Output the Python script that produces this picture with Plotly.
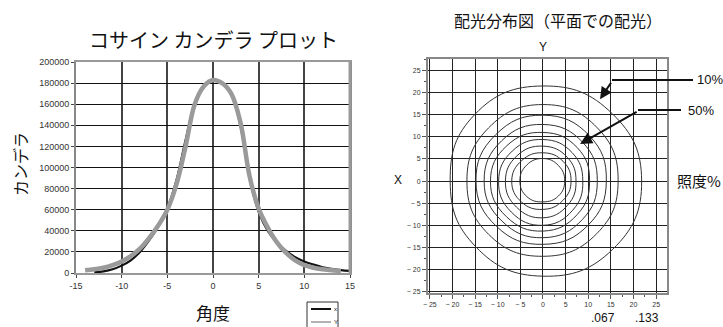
import numpy as np
import plotly.graph_objects as go

# ---------------- data ----------------
# Left chart: cosine candela plot
angle_x = list(range(-13, 16))
cand_x = [500, 1500, 3500, 7000, 12000, 20000, 31000, 44000, 61000, 88000, 126000,
          161000, 178000, 183000, 180000, 170000, 140000, 90000, 58000, 40000, 29000,
          21000, 15000, 11000, 8000, 5500, 4000, 2800, 2000]
angle_y = list(range(-14, 15))
cand_y = [2500, 3500, 5000, 7500, 11000, 16000, 23000, 33000, 45000, 60000, 84000,
          120000, 160000, 177000, 183000, 180000, 170000, 143000, 92000, 61000, 43000,
          29000, 19000, 12000, 7500, 5000, 3500, 2500, 2000]
left_xticks = [-15, -10, -5, 0, 5, 10, 15]
left_xticktext = ["-15", "-10", "-5", "0", "5", "10", "15"]
left_yticks = list(range(0, 200001, 20000))

# Right chart: iso-illuminance contours, radii read at these angles (deg)
contour_angles = [0, 45, 90, 135, 180, 225, 270, 315]
contour_radii = [
    [21.8, 21.6, 21.5, 21.3, 20.5, 21.0, 21.5, 21.8],
    [16.6, 17.0, 17.3, 17.0, 16.8, 17.0, 17.0, 16.8],
    [14.0, 14.5, 14.9, 14.8, 14.8, 14.5, 14.3, 14.1],
    [12.0, 12.4, 12.8, 12.9, 13.0, 12.8, 12.8, 12.3],
    [10.3, 10.7, 11.0, 11.3, 11.6, 11.4, 11.3, 10.7],
    [8.8, 9.1, 9.4, 9.6, 9.8, 9.9, 10.0, 9.3],
    [7.3, 7.6, 7.9, 8.1, 8.3, 8.3, 8.3, 7.7],
    [6.2, 6.3, 6.4, 6.6, 6.9, 6.7, 6.4, 6.2],
    [4.8, 4.9, 5.1, 5.1, 5.1, 5.0, 4.7, 4.8],
]
right_ticks = [-25, -20, -15, -10, -5, 0, 5, 10, 15, 20, 25]
right_ticktext = ["\u2212 25", "\u2212 20", "\u2212 15", "\u2212 10", "\u2212 5", "0",
                  "5", "10", "15", "20", "25"]

W, H = 723, 327
JP = "Noto Sans CJK JP"
LAT = "Liberation Sans, Arial, sans-serif"

def px(x):
    return x / W

def py(y):
    return 1 - y / H

fig = go.Figure()

# left chart curves
fig.add_trace(go.Scatter(x=angle_x, y=cand_x, mode="lines", line=dict(color="#111111", width=2.2, shape="spline"),
                         xaxis="x", yaxis="y", showlegend=False, name="X"))
fig.add_trace(go.Scatter(x=angle_y, y=cand_y, mode="lines", line=dict(color="#9a9a9a", width=4.5, shape="spline"),
                         xaxis="x", yaxis="y", showlegend=False, name="Y"))

# right chart contours
th = np.deg2rad(contour_angles + [360])
for r in contour_radii:
    rr = np.array(r + [r[0]])
    fig.add_trace(go.Scatter(x=rr * np.cos(th), y=rr * np.sin(th), mode="lines",
                             line=dict(color="#333333", width=1, shape="spline", smoothing=1.3),
                             xaxis="x2", yaxis="y2", showlegend=False, hoverinfo="skip"))

fig.update_layout(
    width=W, height=H, margin=dict(l=0, r=0, t=0, b=0),
    paper_bgcolor="white", plot_bgcolor="white",
    font=dict(family=LAT, color="#222222"),
    xaxis=dict(domain=[px(76), px(350)], range=[-15, 15], tickvals=left_xticks, ticktext=left_xticktext,
               showgrid=True, gridcolor="#444444", gridwidth=1.5, zeroline=False,
               showline=True, linecolor="#999999", linewidth=2, mirror=True,
               ticks="outside", ticklen=3, tickcolor="#444444", automargin=False,
               tickfont=dict(size=9, family=LAT, color="#333333")),
    yaxis=dict(domain=[py(273), py(62)], range=[0, 200000], tickvals=left_yticks, tickformat="d",
               showgrid=True, gridcolor="#111111", gridwidth=1, zeroline=False,
               showline=True, linecolor="#888888", linewidth=2, mirror=True,
               ticks="outside", ticklen=3, tickcolor="#444444", automargin=False,
               tickfont=dict(size=9, family=LAT, color="#333333")),
    xaxis2=dict(domain=[px(428), px(667)], range=[-25.4, 27.4], tickvals=right_ticks, ticktext=right_ticktext,
                showgrid=True, gridcolor="#222222", gridwidth=1.3, zeroline=False,
                showline=True, linecolor="#888888", linewidth=2, mirror=True,
                ticks="outside", ticklen=4, tickcolor="#555555", automargin=False,
                minor=dict(ticks="outside", dtick=2.5, ticklen=2, tickcolor="#555555", showgrid=False),
                tickfont=dict(size=7, family=LAT, color="#333333"), anchor="y2"),
    yaxis2=dict(domain=[py(293), py(59)], range=[-25.3, 27.6], tickvals=right_ticks, ticktext=right_ticktext,
                showgrid=True, gridcolor="#222222", gridwidth=1.3, zeroline=False,
                showline=True, linecolor="#888888", linewidth=2, mirror=True,
                ticks="outside", ticklen=4, tickcolor="#555555", automargin=False,
                minor=dict(ticks="outside", dtick=2.5, ticklen=2, tickcolor="#555555", showgrid=False),
                tickfont=dict(size=7, family=LAT, color="#333333"), anchor="x2"),
)

ann = []
def text(x, y, s, size, family=JP, xanchor="center", yanchor="middle", angle=0):
    ann.append(dict(x=px(x), y=py(y), xref="paper", yref="paper", text=s, showarrow=False,
                    font=dict(size=size, family=family, color="#111111"),
                    xanchor=xanchor, yanchor=yanchor, textangle=angle))

text(213, 40, "コサイン カンデラ プロット", 20)
text(20, 164, "カンデラ", 16, angle=-90)
text(213, 312, "角度", 17)
text(558, 20, "配光分布図（平面での配光）", 16)
text(543, 47, "Y", 12, family=LAT)
text(398, 180, "X", 12, family=LAT)
text(675, 180, "照度%", 15, xanchor="left")
text(695, 80, "10%", 13, family=LAT, xanchor="left")
text(686, 110, "50%", 13, family=LAT, xanchor="left")
text(603, 318, ".067", 12, family=LAT)
text(647, 318, ".133", 12, family=LAT)
# legend labels
text(332, 309, "x", 6, family=LAT, xanchor="left")
text(332, 322, "Y", 6, family=LAT, xanchor="left")

# arrows (right chart)
ann.append(dict(x=12.6, y=18.5, xref="x2", yref="y2", ax=12, ay=-18, showarrow=True,
                arrowhead=2, arrowsize=1.2, arrowwidth=2, arrowcolor="#111111", text=""))
ann.append(dict(x=8.2, y=8.4, xref="x2", yref="y2", ax=58, ay=-33, showarrow=True,
                arrowhead=2, arrowsize=1.2, arrowwidth=2, arrowcolor="#111111", text=""))
fig.update_layout(annotations=ann)

shapes = [
    dict(type="line", xref="paper", yref="paper", x0=px(612), x1=px(693), y0=py(80), y1=py(80),
         line=dict(color="#111111", width=2)),
    dict(type="line", xref="paper", yref="paper", x0=px(638), x1=px(681), y0=py(110), y1=py(110),
         line=dict(color="#111111", width=2)),
    # legend box
    dict(type="rect", xref="paper", yref="paper", x0=px(307), x1=px(338), y0=py(330), y1=py(302),
         line=dict(color="#333333", width=1), fillcolor="white"),
    dict(type="line", xref="paper", yref="paper", x0=px(311), x1=px(331), y0=py(309), y1=py(309),
         line=dict(color="#111111", width=2)),
    dict(type="line", xref="paper", yref="paper", x0=px(311), x1=px(331), y0=py(322), y1=py(322),
         line=dict(color="#999999", width=1.5)),
    # thicker gray right border of left chart
    dict(type="line", xref="paper", yref="paper", x0=px(350), x1=px(350), y0=py(273), y1=py(62),
         line=dict(color="#999999", width=3)),
]
fig.update_layout(shapes=shapes)

fig.write_html("out.html", config={"displayModeBar": False},
               post_script="document.body.style.margin='0';document.body.style.overflow='hidden';")
